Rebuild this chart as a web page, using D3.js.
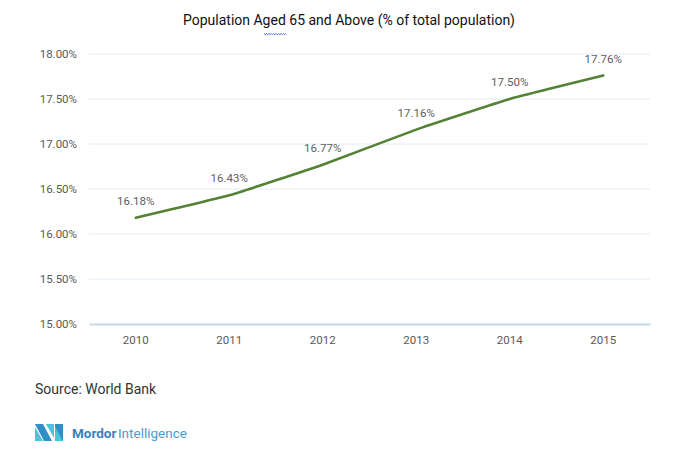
<!DOCTYPE html>
<html><head><meta charset="utf-8">
<script src="https://cdn.jsdelivr.net/npm/d3@7"></script>
<style>
body{margin:0;background:#fff;}
svg{display:block;}
text{font-family:Roboto,sans-serif;}
</style></head>
<body>
<svg id="c" width="676" height="453"></svg>
<script>
const years = ["2010","2011","2012","2013","2014","2015"];
const values = [16.18, 16.43, 16.77, 17.16, 17.50, 17.76];
const yTicks = [15.0, 15.5, 16.0, 16.5, 17.0, 17.5, 18.0];
const title = "Population Aged 65 and Above (% of total population)";
const source = "Source: World Bank";

const svg = d3.select("#c");
const m = {left: 89, right: 650, top: 54, bottom: 324};
const x = d3.scaleBand().domain(years).range([m.left, m.right]);
const y = d3.scaleLinear().domain([15, 18]).range([m.bottom, m.top]);

// title
const tt = svg.append("text").attr("x", 183).attr("y", 25)
  .attr("font-size", 15.5).attr("fill", "#111")
  .attr("textLength", 332).attr("lengthAdjust", "spacingAndGlyphs").text(title);
// spell-check squiggle under "Aged"
{
  const sx = 264, w = 22, n = 18;
  let p = `M${sx},33.5`;
  for (let i = 0; i < n; i++) p += ` l${w/n},${i%2? -1.2:1.2}`;
  svg.append("path").attr("d", p).attr("fill","none").attr("stroke","#3b5bdb").attr("stroke-width",0.9);
}

// gridlines
svg.append("g").selectAll("line").data(yTicks.filter(d => d > 15)).join("line")
  .attr("x1", m.left).attr("x2", m.right)
  .attr("y1", d => y(d)).attr("y2", d => y(d))
  .attr("stroke", "#e2ecf5").attr("stroke-width", 1);

// y axis labels
const yAxis = d3.axisLeft(y).tickValues(yTicks).tickSize(0).tickPadding(0)
  .tickFormat(d => d.toFixed(2) + "%");
const gy = svg.append("g").attr("transform", `translate(77,0)`).call(yAxis);
gy.select(".domain").remove();
gy.selectAll("text").attr("font-size", 11.5).attr("fill", "#595959")
  .style("font-family", 'Roboto,sans-serif');

// x axis
const xAxis = d3.axisBottom(x).tickSize(0).tickPadding(12);
const gx = svg.append("g").attr("transform", `translate(0,${m.bottom})`).call(xAxis);
gx.select(".domain").attr("stroke", "#c3d8ea").attr("stroke-width", 2);
gx.selectAll("text").attr("font-size", 11.5).attr("fill", "#595959")
  .style("font-family", 'Roboto,sans-serif');

// line
const cx = d => x(d) + x.bandwidth() / 2;
const line = d3.line().x((d, i) => cx(years[i])).y(d => y(d)).curve(d3.curveCardinal.tension(0.65));
svg.append("path").datum(values).attr("d", line)
  .attr("fill", "none").attr("stroke", "#548235").attr("stroke-width", 2.6)
  .attr("stroke-linecap", "round");

// data labels
svg.append("g").selectAll("text").data(values).join("text")
  .attr("x", (d, i) => cx(years[i])).attr("y", d => y(d) - 13)
  .attr("text-anchor", "middle").attr("font-size", 11.5).attr("fill", "#606060")
  .text(d => d.toFixed(2) + "%");

// source
svg.append("text").attr("x", 35).attr("y", 394).attr("font-size", 14)
  .attr("fill", "#333").text(source);

// logo
const lg = svg.append("g").attr("transform", "translate(35,424)");
lg.append("path").attr("d", "M0,0 L8,0 L17,17 L9,17 Z").attr("fill", "#2f8fc6");
lg.append("path").attr("d", "M0,3 L8,17 L0,17 Z").attr("fill", "#47c6d6");
lg.append("path").attr("d", "M11,0 L19,0 L19,14 Z").attr("fill", "#47c6d6");
lg.append("path").attr("d", "M20,0 L28,0 L28,17 L20,17 Z").attr("fill", "#2f8fc6");
lg.append("path").attr("d", "M20,3 L28,17 L20,17 Z").attr("fill", "#47c6d6");
const lt = lg.append("text").attr("x", 37).attr("y", 13.5).attr("font-size", 13.5)
  .style("font-family", "Roboto,sans-serif");
lt.append("tspan").attr("font-weight", "bold").attr("fill", "#3a7fc0").text("Mordor");
lt.append("tspan").attr("fill", "#4a9bd0").attr("dx", 1.5).text("Intelligence");
</script>
</body></html>
